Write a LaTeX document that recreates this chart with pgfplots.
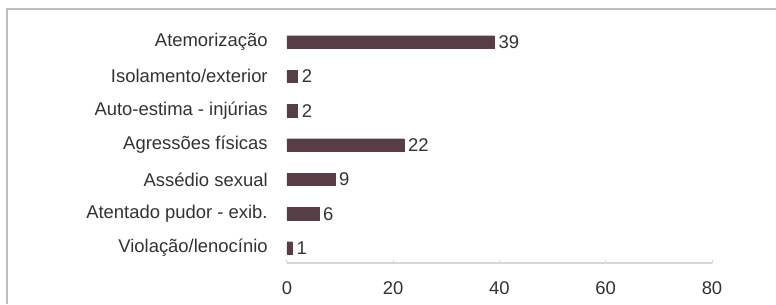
\documentclass[border=0pt]{standalone}
\usepackage{pgfplots}
\pgfplotsset{compat=1.18}
\usepackage{fontspec}
\setmainfont{Liberation Sans}
\definecolor{barc}{RGB}{88,60,70}
\definecolor{txt}{RGB}{50,50,50}
\definecolor{framec}{RGB}{190,190,190}
\definecolor{axc}{RGB}{215,215,215}
\begin{document}
\fontsize{18.5}{22}\selectfont
\begin{tikzpicture}[x=1bp,y=1bp]
\useasboundingbox (-287,-41) rectangle (489,263);
\draw[framec, line width=1.2bp] (-280,-41) -- (-280,254) -- (489,254);
\begin{axis}[
  at={(0,0)}, anchor=south west,
  scale only axis,
  width=425bp, height=238.2bp,
  xmin=0, xmax=80,
  ymin=-0.437, ymax=6.5,
  xbar, bar width=12.5bp,
  axis x line*=bottom,
  axis y line*=left,
  y axis line style={draw=none},
  ytick style={draw=none},
  x axis line style={axc, line width=1.2bp, -},
  xtick={0,20,40,60,80},
  xtick align=inside,
  major tick length=3bp,
  xtick style={axc, line width=1bp},
  xticklabel style={text=txt, font=\fontsize{18.5}{22}\selectfont, yshift=-12bp},
  /pgf/number format/assume math mode=true,
  ytick={0,1,2,3,4,5,6},
  yticklabels={Violação/lenocínio, Atentado pudor - exib., Assédio sexual, Agressões físicas, Auto-estima - injúrias, Isolamento/exterior, Atemorização},
  yticklabel style={text=txt, font=\fontsize{18.5}{22}\selectfont, xshift=-10bp},
  nodes near coords,
  every node near coord/.append style={text=txt, font=\fontsize{18.5}{22}\selectfont, xshift=-2bp},
  clip=false,
]
\addplot[fill=barc, draw=barc] coordinates {
(1,0) (6,1) (9,2) (22,3) (2,4) (2,5) (39,6)
};
\end{axis}
\end{tikzpicture}
\end{document}
